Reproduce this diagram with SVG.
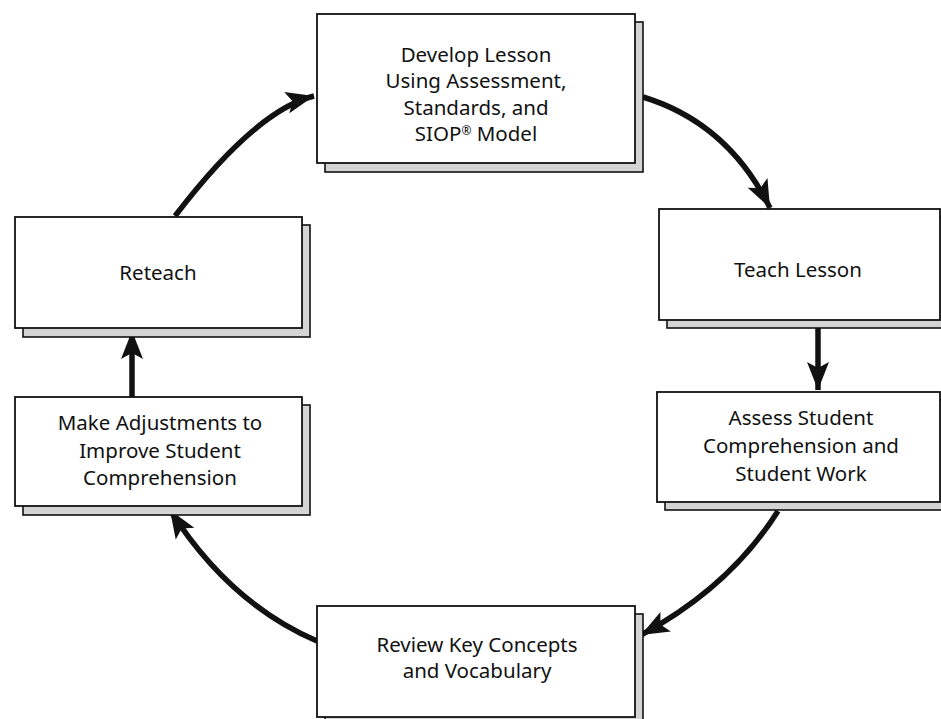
<svg xmlns="http://www.w3.org/2000/svg" width="941" height="719" viewBox="0 0 941 719">
  <style>
    .back { fill: #d4d4d4; stroke: #111; stroke-width: 1.6; }
    .front { fill: #ffffff; stroke: #111; stroke-width: 1.8; }
    .label { font-family: "Noto Sans", "Open Sans", sans-serif; font-size: 20.5px; fill: #111; text-anchor: middle; }
    .flow { fill: none; stroke: #111; stroke-width: 5.5; stroke-linecap: butt; }
  </style>
  <defs>
    <marker id="head" markerUnits="userSpaceOnUse" markerWidth="30" markerHeight="24" viewBox="0 0 30 24" refX="28" refY="12" orient="auto">
      <path d="M0,1 L28,12 L0,23 L6,12 Z" fill="#111"/>
    </marker>
  </defs>
  <rect width="941" height="719" fill="#ffffff"/>

  <g id="connectors">
    <path class="flow" d="M175,216 Q256,110 314,96" marker-end="url(#head)"/>
    <path class="flow" d="M643,97 Q728,123 770,208" marker-end="url(#head)"/>
    <path class="flow" d="M818,328 L818,390" marker-end="url(#head)"/>
    <path class="flow" d="M778,511 Q730,587 641,635" marker-end="url(#head)"/>
    <path class="flow" d="M317,641 Q229,603 170,510" marker-end="url(#head)"/>
    <path class="flow" d="M132,397 L132,331" marker-end="url(#head)"/>
  </g>

  <g id="develop">
    <rect class="back" x="325" y="22" width="318" height="150"/>
    <rect class="front" x="317" y="14" width="318" height="149"/>
    <text class="label" x="476" y="62">Develop Lesson</text>
    <text class="label" x="476" y="88">Using Assessment,</text>
    <text class="label" x="476" y="115">Standards, and</text>
    <text class="label" x="476" y="141">SIOP<tspan font-size="12" dy="-6">®</tspan><tspan dy="6"> Model</tspan></text>
  </g>

  <g id="teach">
    <rect class="back" x="667" y="217" width="290" height="111"/>
    <rect class="front" x="659" y="209" width="281" height="111"/>
    <text class="label" x="798" y="277">Teach Lesson</text>
  </g>

  <g id="assess">
    <rect class="back" x="665" y="400" width="290" height="110"/>
    <rect class="front" x="657" y="392" width="283" height="110"/>
    <text class="label" x="801" y="425">Assess Student</text>
    <text class="label" x="801" y="453">Comprehension and</text>
    <text class="label" x="801" y="481">Student Work</text>
  </g>

  <g id="review">
    <rect class="back" x="325" y="614" width="318" height="112"/>
    <rect class="front" x="317" y="606" width="318" height="111"/>
    <text class="label" x="477" y="652">Review Key Concepts</text>
    <text class="label" x="477" y="678">and Vocabulary</text>
  </g>

  <g id="adjust">
    <rect class="back" x="23" y="405" width="287" height="110"/>
    <rect class="front" x="15" y="397" width="287" height="109"/>
    <text class="label" x="160" y="430">Make Adjustments to</text>
    <text class="label" x="160" y="458">Improve Student</text>
    <text class="label" x="160" y="485">Comprehension</text>
  </g>

  <g id="reteach">
    <rect class="back" x="23" y="225" width="287" height="112"/>
    <rect class="front" x="15" y="217" width="287" height="111"/>
    <text class="label" x="158" y="280">Reteach</text>
  </g>
</svg>
